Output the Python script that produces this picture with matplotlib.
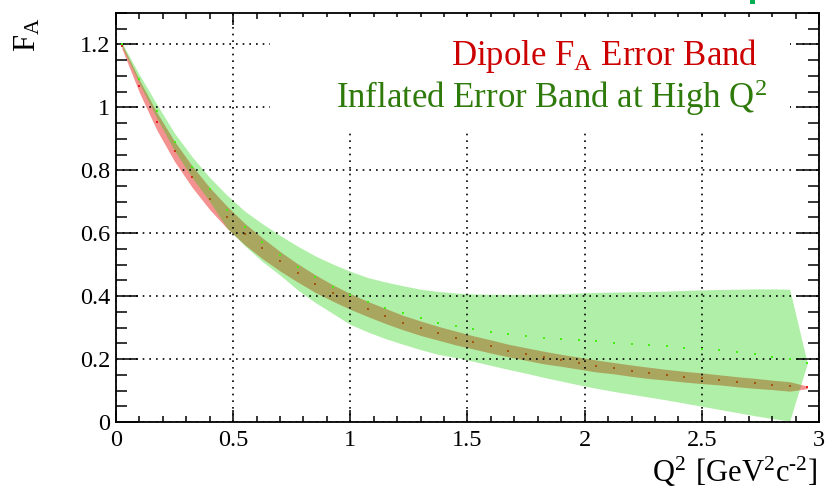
import numpy as np
import matplotlib
matplotlib.use('Agg')
import matplotlib.pyplot as plt
from matplotlib.ticker import MultipleLocator
from matplotlib.patches import Rectangle

plt.rcParams['font.family'] = ['Liberation Serif', 'DejaVu Serif']
plt.rcParams['mathtext.fontset'] = 'custom'
plt.rcParams['mathtext.rm'] = 'Liberation Serif'

# Q^2 sample points (GeV^2 c^-2)
q2 = [0.025, 0.1, 0.175, 0.25, 0.325, 0.4, 0.475, 0.55, 0.625, 0.7,
      0.775, 0.85, 0.925, 1.0, 1.075, 1.15, 1.225, 1.3, 1.375, 1.45,
      1.525, 1.6, 1.675, 1.75, 1.825, 1.9, 1.975, 2.05, 2.125, 2.2,
      2.275, 2.35, 2.425, 2.5, 2.575, 2.65, 2.725, 2.8, 2.875, 2.95]

# dipole F_A central value and half width of its band
dipole_fa = [1.195, 1.067, 0.955, 0.86, 0.78, 0.71, 0.65, 0.597, 0.552, 0.511,
             0.474, 0.44, 0.41, 0.383, 0.359, 0.337, 0.316, 0.298, 0.282, 0.267,
             0.253, 0.24, 0.227, 0.216, 0.205, 0.196, 0.187, 0.178, 0.171, 0.163,
             0.156, 0.15, 0.144, 0.139, 0.134, 0.128, 0.123, 0.118, 0.113, 0.11]
dipole_err = [0.008, 0.02, 0.028, 0.032, 0.034, 0.035, 0.035, 0.034, 0.033, 0.031,
              0.029, 0.028, 0.026, 0.025, 0.024, 0.024, 0.023, 0.023, 0.022, 0.022,
              0.021, 0.021, 0.02, 0.02, 0.02, 0.019, 0.019, 0.019, 0.018, 0.018,
              0.018, 0.017, 0.017, 0.017, 0.016, 0.016, 0.016, 0.015, 0.015, 0.004]

# inflated band: central value, upper and lower edges
infl_fa = [1.2, 1.089, 0.987, 0.89, 0.81, 0.739, 0.675, 0.62, 0.573, 0.532,
           0.494, 0.46, 0.43, 0.404, 0.381, 0.362, 0.345, 0.33, 0.316, 0.306,
           0.295, 0.287, 0.279, 0.273, 0.268, 0.264, 0.26, 0.256, 0.252, 0.247,
           0.244, 0.24, 0.236, 0.232, 0.228, 0.223, 0.216, 0.208, 0.201, 0.187]
infl_hi = [1.205, 1.104, 1.009, 0.918, 0.843, 0.777, 0.72, 0.67, 0.63, 0.593,
           0.559, 0.528, 0.502, 0.479, 0.459, 0.445, 0.433, 0.422, 0.415, 0.41,
           0.407, 0.406, 0.406, 0.406, 0.407, 0.408, 0.41, 0.412, 0.413, 0.414,
           0.415, 0.416, 0.418, 0.42, 0.421, 0.422, 0.423, 0.423, 0.422, 0.188]
infl_lo = [1.195, 1.075, 0.965, 0.862, 0.777, 0.701, 0.615, 0.56, 0.51, 0.467,
           0.42, 0.38, 0.345, 0.31, 0.286, 0.265, 0.247, 0.23, 0.215, 0.205,
           0.193, 0.18, 0.167, 0.155, 0.142, 0.13, 0.118, 0.107, 0.097, 0.088,
           0.079, 0.07, 0.06, 0.05, 0.04, 0.03, 0.02, 0.011, 0.003, 0.186]

x_ticks = [0, 0.5, 1, 1.5, 2, 2.5, 3]
x_labels = ['0', '0.5', '1', '1.5', '2', '2.5', '3']
y_ticks = [0, 0.2, 0.4, 0.6, 0.8, 1.0, 1.2]
y_labels = ['0', '0.2', '0.4', '0.6', '0.8', '1', '1.2']

fig = plt.figure(figsize=(8.26, 4.92), dpi=100)
ax = fig.add_axes([0.1404, 0.1423, 0.8511, 0.8313])

lo = np.array(dipole_fa) - np.array(dipole_err)
hi = np.array(dipole_fa) + np.array(dipole_err)
ax.fill_between(q2, lo, hi, color=(0.9, 0.0, 0.0), alpha=0.43, lw=0, zorder=1)
ax.plot(q2, dipole_fa, ls='none', marker='s', ms=1.6, color=(0.9, 0.1, 0.1), mew=0, zorder=1.1)

ax.fill_between(q2, infl_lo, infl_hi, color=(0.1, 0.82, 0.0), alpha=0.34, lw=0, zorder=1.5)
ax.plot(q2, infl_fa, ls='none', marker='s', ms=1.6, color='#44ee11', mew=0, zorder=1.6)

ax.set_xlim(0, 3)
ax.set_ylim(0, 1.3)
ax.set_xticks(x_ticks)
ax.set_xticklabels(x_labels)
ax.set_yticks(y_ticks)
ax.set_yticklabels(y_labels)
ax.xaxis.set_minor_locator(MultipleLocator(0.1))
ax.yaxis.set_minor_locator(MultipleLocator(0.05))
ax.tick_params(which='both', direction='in', top=True, right=True, width=1.1, labelsize=17.5)
ax.tick_params(axis='x', which='major', length=8.6, pad=6)
ax.tick_params(axis='x', which='minor', length=4.3)
ax.tick_params(axis='y', which='major', length=15.8, pad=4)
ax.tick_params(axis='y', which='minor', length=7.9)
for s in ax.spines.values():
    s.set_linewidth(1.3)
ax.grid(True, which='major', color='black', ls=(0, (1, 3)), lw=1.2)

# white box behind the legend text, hides the grid there
ax.add_patch(Rectangle((0.219, 0.714), 0.74, 0.276, transform=ax.transAxes,
                       facecolor='white', edgecolor='none', zorder=3))
ax.text(0.913, 0.873, r'Dipole $\mathregular{F_A}$ Error Band', transform=ax.transAxes,
        ha='right', va='baseline', fontsize=25, color='#cc0000', zorder=4)
ax.text(0.926, 0.768, r'Inflated Error Band at High $\mathregular{Q^2}$', transform=ax.transAxes,
        ha='right', va='baseline', fontsize=25, color='#2e7a0a', zorder=4)

fig.text(0.034, 0.965, r'$\mathregular{F_A}$', rotation=90, ha='center', va='top', fontsize=22)
fig.text(0.990, 0.075, '$\\mathregular{Q^2\\ [GeV^2c^{\u2010 2}]}$', ha='right', va='top', fontsize=22)

fig.patches.append(Rectangle((750 / 826, 1 - 4 / 492), 5 / 826, 4 / 492, transform=fig.transFigure,
                             facecolor='#00b050', edgecolor='none'))

fig.savefig('out.png', dpi=100)
